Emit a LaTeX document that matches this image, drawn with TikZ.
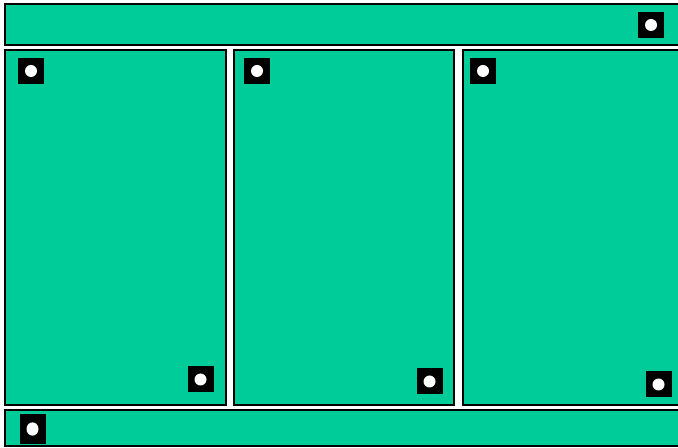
\documentclass[tikz,border=0pt]{standalone}
\usepackage{tikz}
\definecolor{panelgreen}{RGB}{0,204,153}
\tikzset{
  panel/.style={draw=black,fill=panelgreen,line width=1.5pt},
  dotbox/.style={fill=black,inner sep=0pt,minimum size=19.5pt}
}
\begin{document}
\begin{tikzpicture}[x=0.75pt,y=-0.75pt]
        \useasboundingbox (0,0) rectangle (678,448);
        \clip (0,0) rectangle (678,448);
        % bars and panels
        \draw[panel](5,4) rectangle (690,45);
        \draw[panel](5,50) rectangle (226,405);
        \draw[panel](234,50) rectangle (454,405);
        \draw[panel](463,50) rectangle (690,405);
        \draw[panel](5,410) rectangle (690,446);
        % corner markers
        \node[dotbox] (topm) at (651,25) {};
        \node[dotbox] (lefta) at (31,71) {};
        \node[dotbox] (leftb) at (200.5,379.5) {};
        \node[dotbox] (mida) at (257,71) {};
        \node[dotbox] (midb) at (429.5,381.5) {};
        \node[dotbox] (righta) at (483,71) {};
        \node[dotbox] (rightb) at (658.5,384.5) {};
        \node[dotbox,minimum height=22.5pt] (botm) at (32.5,429) {};
        \foreach \m in {topm,lefta,leftb,mida,midb,righta,rightb}
          \fill[white] (\m.center) circle (4.5pt);
        \fill[white] (botm.center) ellipse (4.5pt and 5pt);
\end{tikzpicture}
\end{document}
